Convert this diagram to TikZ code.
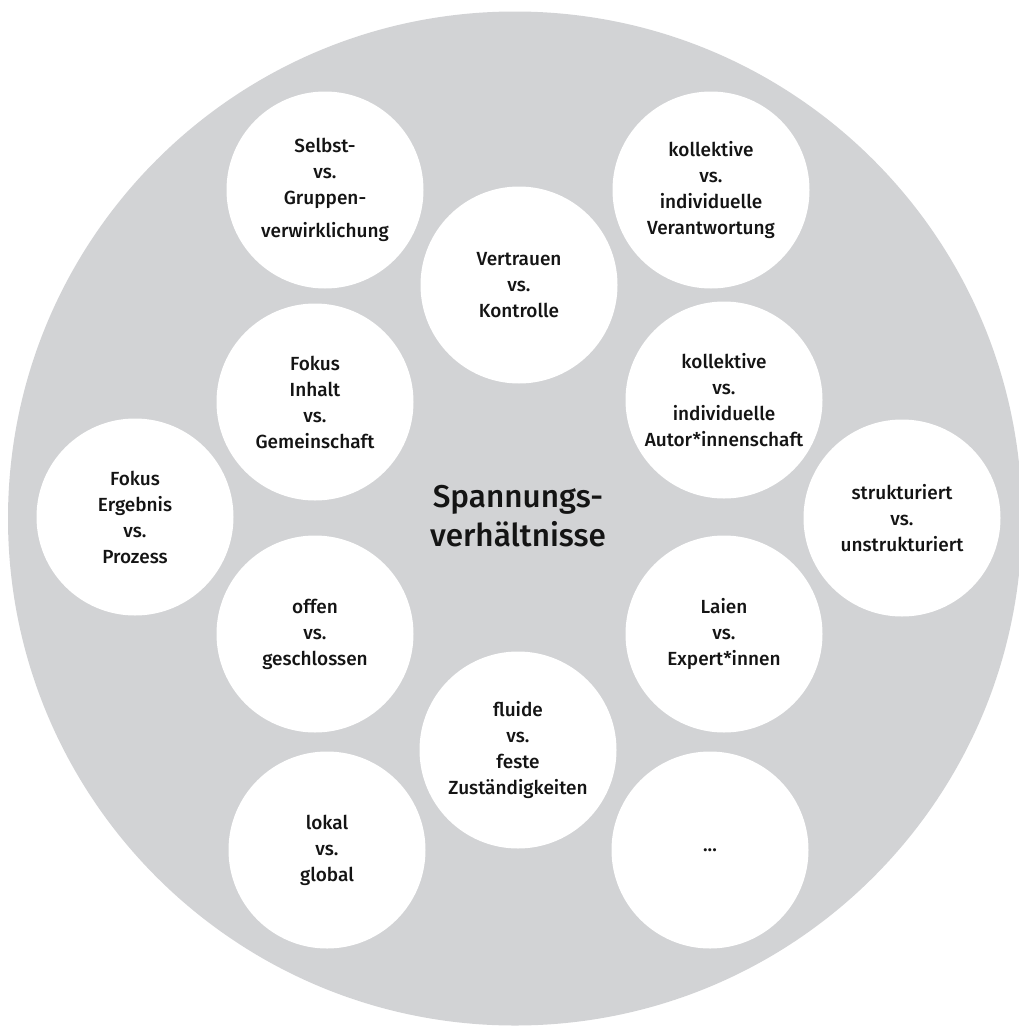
\documentclass[tikz,border=0pt]{standalone}
\usepackage{fontspec}
\setmainfont{Fira Sans Medium}
\definecolor{bggray}{RGB}{210,211,213}
\definecolor{txt}{RGB}{20,20,20}
\tikzset{
  bub/.style={circle, fill=white, minimum size=197pt, inner sep=0pt, align=center,
    text=txt, font=\fontsize{19}{26}\selectfont},
  title/.style={align=center, text=txt, font=\fontsize{31.5}{39}\selectfont}
}
\begin{document}
\begin{tikzpicture}[x=1pt,y=-1pt]
\useasboundingbox (0,0) rectangle (1019,1028);
\fill[bggray] (515,518.5) circle[radius=507];
\node[bub] (s1) at (325,190) {Selbst-\\vs.\\Gruppen-\\[7pt]verwirklichung};
\node[bub] (s2) at (711,190) {kollektive\\vs.\\individuelle\\Verantwortung};
\node[bub] (s3) at (519,285) {Vertrauen\\vs.\\Kontrolle};
\node[bub] (s4) at (315,402) {Fokus\\Inhalt\\vs.\\Gemeinschaft};
\node[bub] (s5) at (724,400) {kollektive\\vs.\\individuelle\\Autor*innenschaft};
\node[bub] (s6) at (135,517) {Fokus\\Ergebnis\\vs.\\Prozess};
\node[bub] (s7) at (902,518) {strukturiert\\vs.\\unstrukturiert};
\node[bub] (s8) at (315,634) {offen\\vs.\\geschlossen};
\node[bub] (s9) at (724,634) {Laien\\vs.\\Expert*innen};
\node[bub] (s10) at (518,750) {fluide\\vs.\\feste\\Zuständigkeiten};
\node[bub] (s11) at (327,850) {lokal\\vs.\\global};
\node[bub] (s12) at (710,850) {...};
\node[title] (c) at (518,516) {Spannungs-\\verhältnisse};
\end{tikzpicture}
\end{document}
